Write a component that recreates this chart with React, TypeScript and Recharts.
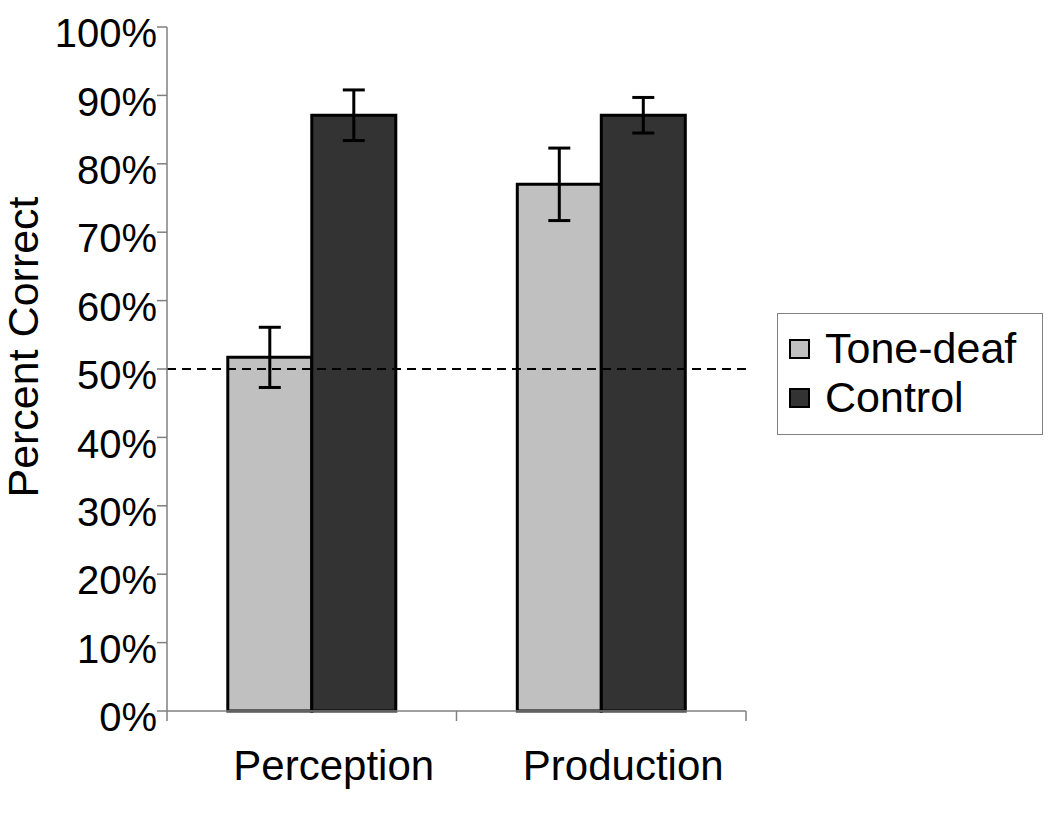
import React from "react";
import {
  ComposedChart,
  Bar,
  ErrorBar,
  XAxis,
  YAxis,
  ReferenceLine,
  Legend,
} from "recharts";

const FONT = '"Liberation Sans", Arial, sans-serif';

const categories = ["Perception", "Production"];
const toneDeaf = [51.7, 77.0];
const control = [87.1, 87.1];
const toneDeafErr = [4.4, 5.3];
const controlErr = [3.7, 2.6];
const yTicks = [0, 10, 20, 30, 40, 50, 60, 70, 80, 90, 100];
// tick marks sit on the category boundaries (fraction of the x range)
const boundaryTicks = [0, 0.5, 1];
const chanceLevel = 50;

const seriesNames = ["Tone-deaf", "Control"];
const seriesColors = ["#c0c0c0", "#333333"];

const data = categories.map((name, i) => ({
  name,
  toneDeaf: toneDeaf[i],
  control: control[i],
  toneDeafErr: toneDeafErr[i],
  controlErr: controlErr[i],
}));

function LegendBox() {
  return (
    <div
      style={{
        boxSizing: "border-box",
        width: 266,
        height: 122,
        border: "1.5px solid #808080",
        background: "#fff",
        paddingTop: 10,
        paddingLeft: 11,
        fontFamily: FONT,
        fontSize: 43,
        lineHeight: "49px",
        color: "#000",
      }}
    >
      {seriesNames.map((n, i) => (
        <div key={n} style={{ display: "flex", alignItems: "center", height: 49 }}>
          <span
            style={{
              display: "inline-block",
              boxSizing: "border-box",
              width: 21,
              height: 20,
              background: seriesColors[i],
              border: "2px solid #000",
              marginRight: 15,
            }}
          />
          <span>{n}</span>
        </div>
      ))}
    </div>
  );
}

function YLabel(props: any) {
  const { viewBox } = props;
  const x = viewBox.x + 38;
  const y = viewBox.y + viewBox.height / 2 - 22;
  return (
    <text
      x={x}
      y={y}
      transform={`rotate(-90 ${x} ${y})`}
      textAnchor="middle"
      fontSize={43}
      fontFamily={FONT}
      fill="#000"
    >
      Percent Correct
    </text>
  );
}

function BoundaryTick(props: any) {
  const { x, y } = props;
  return <line x1={x} y1={y - 10} x2={x} y2={y} stroke="#808080" strokeWidth={1.5} />;
}

export default function App() {
  return (
    <div style={{ position: "absolute", left: 0, top: 0, background: "#fff" }}>
      <ComposedChart
        width={1050}
        height={830}
        data={data}
        margin={{ top: 27, right: 304, bottom: 39, left: 0 }}
        barCategoryGap="21%"
        barGap={0}
      >
        <XAxis
          xAxisId="b_cat"
          dataKey="name"
          height={79}
          axisLine={false}
          tickLine={false}
          tickSize={0}
          tickMargin={38}
          tick={{ fill: "#000", fontSize: 42, fontFamily: FONT, dx: 22 }}
        />
        <XAxis
          xAxisId="a_grid"
          type="number"
          domain={[0, 1]}
          ticks={boundaryTicks}
          interval={0}
          minTickGap={0}
          height={1}
          tickSize={10}
          tickMargin={0}
          tickLine={false}
          tick={<BoundaryTick />}
          stroke="#808080"
          strokeWidth={1.5}
          allowDataOverflow
        />
        <YAxis
          domain={[0, 100]}
          ticks={yTicks}
          width={167}
          tickSize={10}
          tickMargin={0}
          interval={0}
          tickFormatter={(v) => `${v}%`}
          stroke="#808080"
          strokeWidth={1.5}
          tick={{ fill: "#000", fontSize: 40, fontFamily: FONT, dy: 6 }}
          label={<YLabel />}
        />
        <Legend
          layout="horizontal"
          verticalAlign="middle"
          align="center"
          content={() => <LegendBox />}
          wrapperStyle={{ position: "absolute", left: 777, top: 313, width: 266, height: 122 }}
        />
        <Bar
          xAxisId="b_cat"
          dataKey="toneDeaf"
          name={seriesNames[0]}
          fill={seriesColors[0]}
          stroke="#000"
          strokeWidth={3}
          isAnimationActive={false}
        >
          <ErrorBar dataKey="toneDeafErr" width={11} stroke="#000" strokeWidth={3} />
        </Bar>
        <Bar
          xAxisId="b_cat"
          dataKey="control"
          name={seriesNames[1]}
          fill={seriesColors[1]}
          stroke="#000"
          strokeWidth={3}
          isAnimationActive={false}
        >
          <ErrorBar dataKey="controlErr" width={11} stroke="#000" strokeWidth={3} />
        </Bar>
        <ReferenceLine
          xAxisId="b_cat"
          y={chanceLevel}
          stroke="#000"
          strokeWidth={2}
          strokeDasharray="9 6"
        />
      </ComposedChart>
    </div>
  );
}
